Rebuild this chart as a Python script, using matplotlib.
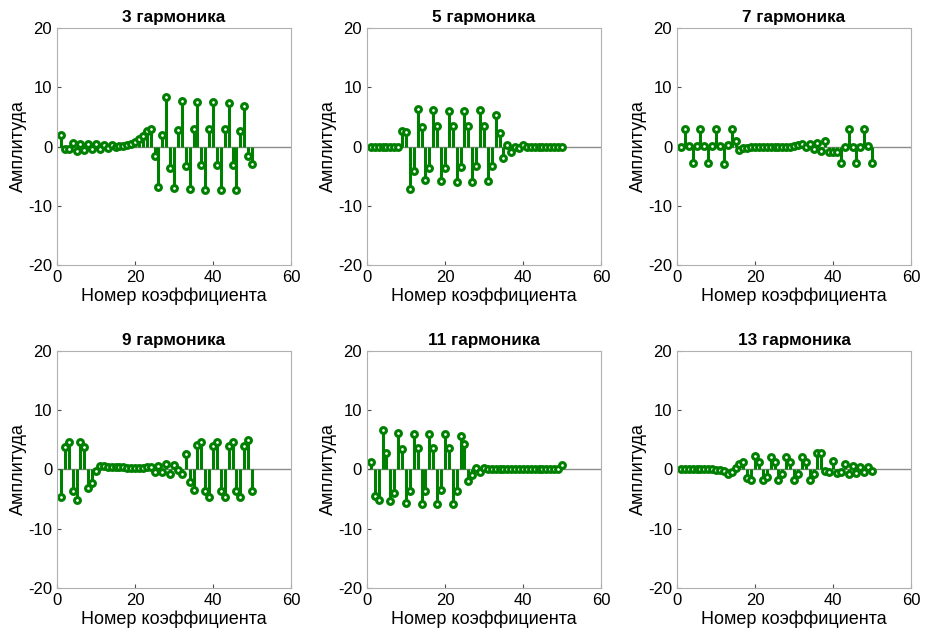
import numpy as np
import matplotlib.pyplot as plt

plt.rcParams['font.family'] = ['Liberation Sans', 'DejaVu Sans']
plt.rcParams['axes.unicode_minus'] = False

n = np.arange(1, 51)

harm3 = [2.0, -0.4, -0.5, 0.6, -0.8, 0.5, -0.6, 0.4, -0.5, 0.35,
         -0.45, 0.3, -0.3, 0.2, -0.15, 0.15, 0.1, 0.3, 0.5, 0.8,
         1.2, 1.8, 2.6, 3.0, -1.6, -6.8, 2.0, 8.3, -3.7, -7.0,
         2.8, 7.6, -3.3, -7.2, 3.0, 7.5, -3.2, -7.3, 3.0, 7.5,
         -3.2, -7.3, 3.0, 7.4, -3.2, -7.4, 2.7, 6.9, -1.6, -2.9]
harm5 = [0, 0, 0, 0, 0, 0, 0, 0, 2.6, 2.4,
         -7.1, -4.1, 6.3, 3.3, -5.7, -3.7, 6.1, 3.4, -5.9, -3.7,
         6.0, 3.4, -6.0, -3.5, 6.0, 3.4, -6.0, -3.3, 6.1, 3.4,
         -5.9, -3.3, 5.3, 2.2, -1.9, 0.2, -1.0, -0.1, -0.3, 0.3,
         0, 0, 0, 0, 0, 0, 0, 0, 0, 0]
harm7 = [0, 2.9, 0.1, -2.8, 0.1, 2.9, 0.1, -2.8, 0.1, 2.9,
         0.1, -2.9, 0.3, 2.9, 0.9, -0.6, -0.2, -0.2, -0.15, -0.15,
         -0.1, -0.1, -0.1, -0.05, -0.05, 0, 0, 0, 0, 0.1,
         0.2, 0.45, -0.1, 0.45, -0.5, 0.6, -0.7, 1.0, -1.0, -0.9,
         -0.9, -2.8, 0, 2.9, 0, -2.8, 0, 2.9, 0.1, -2.8]
harm9 = [-4.7, 3.8, 4.7, -3.6, -5.2, 4.6, 3.8, -3.2, -2.3, -0.2,
         0.6, 0.6, 0.5, 0.4, 0.4, 0.35, 0.35, 0.3, 0.3, 0.3,
         0.3, 0.3, 0.35, 0.45, -0.4, 0.6, -0.5, 0.85, -0.7, 0.7,
         -0.1, -0.8, 2.6, -2.1, -3.5, 4.1, 4.7, -3.6, -4.7, 3.9,
         4.7, -3.6, -4.7, 3.9, 4.7, -3.6, -4.7, 3.9, 4.9, -3.6]
harm11 = [1.2, -4.5, -5.2, 6.6, 2.8, -5.3, -4.0, 6.1, 3.4, -5.7,
          -3.6, 6.0, 3.6, -5.8, -3.6, 6.0, 3.6, -5.9, -3.5, 6.0,
          3.6, -5.8, -3.6, 5.7, 4.3, -2.0, -1.0, 0.3, -0.4, 0.2,
          0, 0, 0, 0, 0, 0, 0, 0, 0, 0,
          0, 0, 0, 0, 0, 0, 0, 0, 0, 0.7]
harm13 = [0.1, 0.1, 0.05, 0.05, 0, 0, 0, 0, 0, -0.05,
          -0.1, -0.3, -0.7, -0.5, 0.3, 1.0, 1.3, -1.4, -1.7, 2.3,
          1.3, -1.7, -1.2, 2.1, 1.3, -1.7, -0.8, 2.1, 1.3, -1.7,
          -0.8, 2.1, 1.3, -1.7, -0.8, 2.8, 2.8, -0.3, -0.5, 1.4,
          -0.6, -0.4, 0.9, -0.8, 0.6, -0.6, 0.45, -0.45, 0.35, -0.2]

titles = ['3 гармоника', '5 гармоника', '7 гармоника',
          '9 гармоника', '11 гармоника', '13 гармоника']
series = [harm3, harm5, harm7, harm9, harm11, harm13]

fig = plt.figure(figsize=(9.3, 6.38), dpi=100)
lefts = [0.0613, 0.3946, 0.728]
bottoms = [0.5846, 0.0784]
green = '#008000'

for i, (vals, title) in enumerate(zip(series, titles)):
    ax = fig.add_axes([lefts[i % 3], bottoms[i // 3], 0.2516, 0.3715])
    ax.axhline(0, color='#8c8c8c', lw=1.0, zorder=1)
    markers, stems, base = ax.stem(n, vals, linefmt='-', markerfmt='o', basefmt=' ')
    stems.set_color(green)
    stems.set_linewidth(2.2)
    markers.set_color(green)
    markers.set_markerfacecolor('white')
    markers.set_markersize(4.2)
    markers.set_markeredgewidth(2.2)
    ax.set_xlim(0, 60)
    ax.set_ylim(-20, 20)
    ax.set_xticks([0, 20, 40, 60])
    ax.set_yticks([-20, -10, 0, 10, 20])
    ax.tick_params(direction='in', labelsize=12, length=3, color='#4d4d4d')
    for sp in ax.spines.values():
        sp.set_color('#b0b0b0')
        sp.set_linewidth(0.8)
    ax.set_title(title, fontsize=12.3, fontweight='bold', pad=4)
    ax.set_xlabel('Номер коэффициента', fontsize=13, labelpad=2)
    ax.set_ylabel('Амплитуда', fontsize=13, labelpad=1)

fig.savefig('out.png', dpi=100)
